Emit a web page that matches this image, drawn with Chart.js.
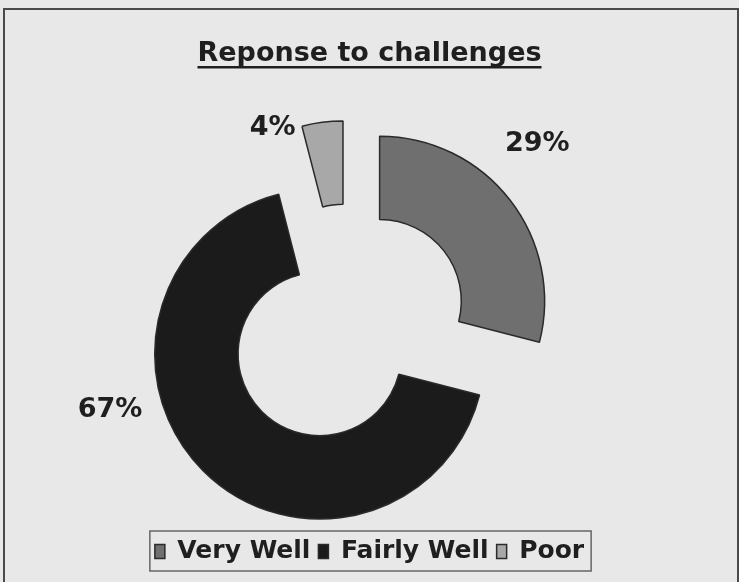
<!DOCTYPE html>
<html>
<head>
<meta charset="utf-8">
<script src="https://cdn.jsdelivr.net/npm/chart.js@4.4.0/dist/chart.umd.min.js"></script>
<style>
  html, body { margin: 0; padding: 0; background: #e8e8e8; }
  #wrap { position: relative; width: 739px; height: 582px; overflow: hidden; }
  #frame { position: absolute; left: 3px; top: 8px; width: 732px; height: 600px; border: 2px solid #4a4a4a; border-bottom: none; }
  canvas { position: absolute; left: 0; top: 0; }
</style>
</head>
<body>
<div id="wrap"><div id="frame"></div><canvas id="chart" width="739" height="582"></canvas></div>
<script>
const labels = ['Very Well', 'Fairly Well', 'Poor'];
const percents = [29, 67, 4];
const sliceColors = ['#6f6f6f', '#1b1b1b', '#a8a8a8'];

// % label placement: angle (deg, clockwise from 12 o'clock) and distance from the slice centre
const labelAngle = [45, 255, 336];
const labelDist = [223, 217, 173];
const explode = 40;
const FONT = '"DejaVu Sans", sans-serif';

Chart.defaults.font.family = FONT;

// pull every slice out along its middle angle (excel style exploded doughnut)
const explodePlugin = {
    id: 'explode',
    afterDatasetsUpdate(chart) {
        chart.getDatasetMeta(0).data.forEach(arc => {
            const mid = (arc.startAngle + arc.endAngle) / 2;
            arc.x += Math.cos(mid) * explode;
            arc.y += Math.sin(mid) * explode;
        });
    }
};

const pctLabels = {
    id: 'pctLabels',
    afterDatasetsDraw(chart) {
        const ctx = chart.ctx;
        ctx.save();
        ctx.font = 'bold 27px ' + FONT;
        ctx.fillStyle = '#1f1f1f';
        ctx.textAlign = 'center';
        ctx.textBaseline = 'middle';
        chart.getDatasetMeta(0).data.forEach((arc, i) => {
            const a = labelAngle[i] * Math.PI / 180;
            ctx.fillText(percents[i] + '%', arc.x + Math.sin(a) * labelDist[i], arc.y - Math.cos(a) * labelDist[i]);
        });
        ctx.restore();
    }
};

// underline under the title + box round the legend
const decor = {
    id: 'decor',
    afterDraw(chart) {
        const ctx = chart.ctx;
        const t = chart.titleBlock;
        ctx.save();
        ctx.font = 'bold 27px ' + FONT;
        const w = ctx.measureText(t.options.text).width;
        const cx = (t.left + t.right) / 2;
        ctx.fillStyle = '#1f1f1f';
        ctx.fillRect(cx - w / 2, t.top + 38 + 28, w, 2.5);

        const lg = chart.legend;
        const hb = lg.legendHitBoxes;
        const last = hb[hb.length - 1];
        const x0 = hb[0].left - 5, x1 = last.left + last.width + 7;
        ctx.strokeStyle = '#666';
        ctx.lineWidth = 1.5;
        ctx.strokeRect(x0, lg.top, x1 - x0, lg.bottom - lg.top - 3);
        ctx.restore();
    }
};

new Chart(document.getElementById('chart'), {
    type: 'doughnut',
    data: {
        labels: labels,
        datasets: [{
            data: percents,
            backgroundColor: sliceColors,
            borderColor: '#2a2a2a',
            borderWidth: 1.5
        }]
    },
    options: {
        responsive: false,
        animation: false,
        events: [],
        radius: 165,
        cutout: '49.5%',
        layout: { padding: { top: 0, bottom: 8, left: 0, right: 0 } },
        plugins: {
            title: {
                display: true,
                text: 'Reponse to challenges',
                color: '#1f1f1f',
                font: { size: 27, weight: 'bold' },
                padding: { top: 38, bottom: 50 }
            },
            // empty spacer on the right so the ring sits left of centre
            subtitle: {
                display: true,
                text: '',
                position: 'right',
                fullSize: false,
                font: { size: 10 },
                padding: { top: 31, bottom: 0 }
            },
            legend: {
                position: 'bottom',
                labels: {
                    color: '#1f1f1f',
                    font: { size: 25, weight: 'bold' },
                    boxWidth: 10,
                    boxHeight: 14,
                    padding: 8
                }
            },
            tooltip: { enabled: false }
        }
    },
    plugins: [explodePlugin, pctLabels, decor]
});
</script>
</body>
</html>
